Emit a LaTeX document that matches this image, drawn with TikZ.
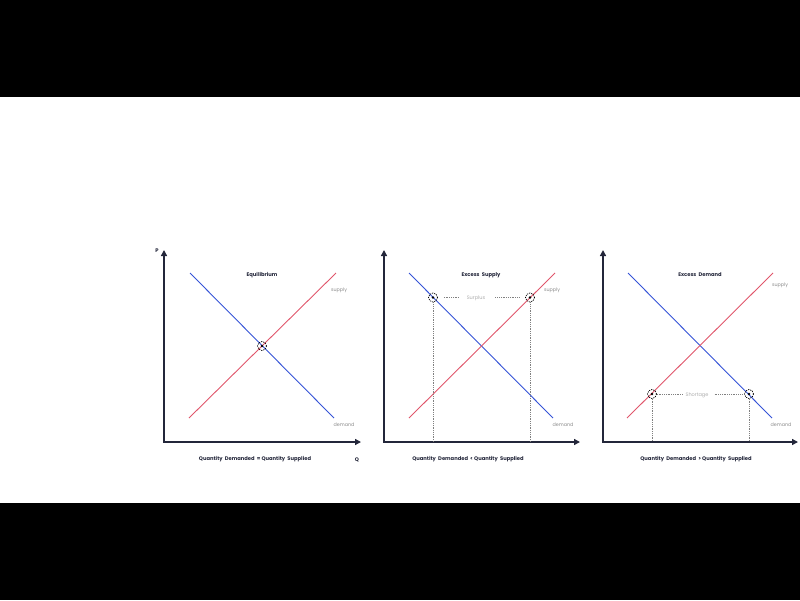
\documentclass[tikz,border=0pt]{standalone}
\usepackage{fontspec}
\setmainfont{Poppins}
\usetikzlibrary{arrows.meta}
\definecolor{axisc}{HTML}{23263A}
\definecolor{demc}{HTML}{3553D6}
\definecolor{supc}{HTML}{E0566B}
\definecolor{labc}{HTML}{8A8A8A}
\begin{document}
\begin{tikzpicture}[x=1pt,y=-1pt,
  axis/.style={draw=axisc,line width=1.4pt,-{Triangle[length=6pt,width=6pt]}},
  demline/.style={draw=demc,line width=0.9pt},
  supline/.style={draw=supc,line width=0.9pt},
  ttl/.style={font=\fontsize{5.2}{6}\selectfont\bfseries,text=axisc,inner sep=0pt},
  qtxt/.style={font=\fontsize{5.2}{6}\selectfont\bfseries,text=axisc,inner sep=0pt},
  lbl/.style={font=\fontsize{4.8}{5}\selectfont,text=labc,inner sep=0pt},
  gaplbl/.style={font=\fontsize{5}{6}\selectfont,text=labc!70,inner sep=1pt},
  guide/.style={draw=gray,line width=0.6pt,dash pattern=on 1pt off 0.8pt},
  mkr/.style={circle,draw=black,line width=0.7pt,dash pattern=on 1.2pt off 1pt,minimum size=9pt,inner sep=0pt,
    path picture={\fill[black] (path picture bounding box.center) circle (1.4pt);}}]
\useasboundingbox (0,0) rectangle (800,600);
\fill[black] (0,0) rectangle (800,97);
\fill[black] (0,503) rectangle (800,600);

% ---------- Panel 1 ----------
\coordinate (o1) at (164,442);
\coordinate (yt1) at (164,250);
\coordinate (xt1) at (361,442);
\draw[axis] (o1) -- (yt1);
\draw[axis] ([xshift=-0.7pt]o1) -- (xt1);
\coordinate (d1a) at (190,273); \coordinate (d1b) at (334,418);
\coordinate (s1a) at (189,418); \coordinate (s1b) at (336,273);
\draw[demline] (d1a) -- (d1b);
\draw[supline] (s1a) -- (s1b);
\node[mkr] (e1) at (262,346) {};
\node[ttl] (t1) at (262,275) {Equilibrium};
\node[lbl] (sl1) at (339,290) {supply};
\node[lbl] (dl1) at (344,425) {demand};
\node[qtxt] (q1) at (255,459) {Quantity\ \ Demanded\ \ =\ Quantity\ \ Supplied};
\node[qtxt] (P) at (157,251) {P};
\node[qtxt] (Q) at (357,460) {Q};

% ---------- Panel 2 ----------
\coordinate (o2) at (384,442);
\coordinate (yt2) at (384,250);
\coordinate (xt2) at (580,442);
\draw[axis] (o2) -- (yt2);
\draw[axis] ([xshift=-0.7pt]o2) -- (xt2);
\coordinate (d2a) at (409,273); \coordinate (d2b) at (553,418);
\coordinate (s2a) at (409,418); \coordinate (s2b) at (555,273);
\draw[demline] (d2a) -- (d2b);
\draw[supline] (s2a) -- (s2b);
\node[mkr] (a2) at (433,297.5) {};
\node[mkr] (b2) at (530,297.5) {};
\coordinate (a2x) at (433,442);
\coordinate (b2x) at (530,442);
\node[gaplbl] (sur) at (476,298) {Surplus};
\draw[guide] ([xshift=6pt]a2.east) -- ([xshift=-6pt]a2.east -| sur.west);
\draw[guide] ([xshift=9pt]b2.west -| sur.east) -- ([xshift=-6pt]b2.west);
\draw[guide] (a2.south) -- (a2x);
\draw[guide] (b2.south) -- (b2x);
\node[ttl] (t2) at (481,275) {Excess\ \ Supply};
\node[lbl] (sl2) at (552,290) {supply};
\node[lbl] (dl2) at (563,425) {demand};
\node[qtxt] (q2) at (468,459) {Quantity\ \ Demanded\ \ <\ Quantity\ \ Supplied};

% ---------- Panel 3 ----------
\coordinate (o3) at (603,442);
\coordinate (yt3) at (603,250);
\coordinate (xt3) at (798,442);
\draw[axis] (o3) -- (yt3);
\draw[axis] ([xshift=-0.7pt]o3) -- (xt3);
\coordinate (d3a) at (628,273); \coordinate (d3b) at (772,418);
\coordinate (s3a) at (627,418); \coordinate (s3b) at (773,273);
\draw[demline] (d3a) -- (d3b);
\draw[supline] (s3a) -- (s3b);
\node[mkr] (a3) at (652,394) {};
\node[mkr] (b3) at (749,394) {};
\coordinate (a3x) at (652,442);
\coordinate (b3x) at (749,442);
\node[gaplbl] (sho) at (697,395) {Shortage};
\draw[guide] (a3.east) -- ([xshift=-2pt]a3.east -| sho.west);
\draw[guide] ([xshift=5pt]b3.west -| sho.east) -- ([xshift=-2pt]b3.west);
\draw[guide] (a3.south) -- (a3x);
\draw[guide] (b3.south) -- (b3x);
\node[ttl] (t3) at (700,275) {Excess\ \ Demand};
\node[lbl] (sl3) at (780,285) {supply};
\node[lbl] (dl3) at (781,425) {demand};
\node[qtxt] (q3) at (696,459) {Quantity\ \ Demanded\ \ >\ Quantity\ \ Supplied};
\end{tikzpicture}
\end{document}
